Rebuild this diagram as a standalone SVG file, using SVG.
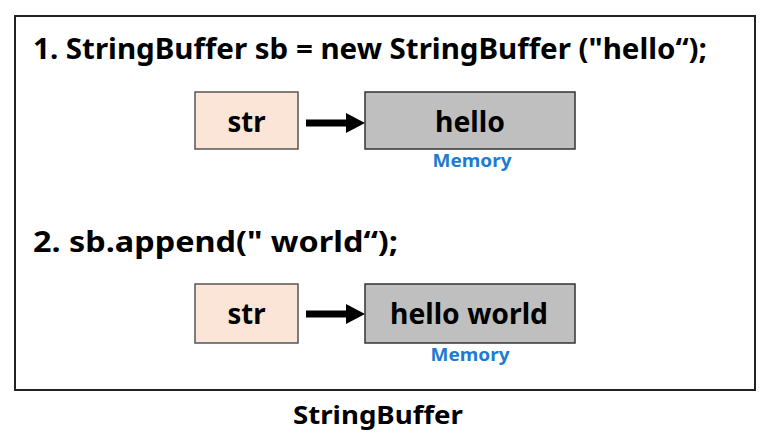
<svg xmlns="http://www.w3.org/2000/svg" width="771" height="448" viewBox="0 0 771 448">
<style>
.t{font-family:"Noto Sans","Liberation Sans",sans-serif;font-weight:bold;fill:#000}
.ref{fill:#fbe5d6;stroke:#555;stroke-width:1.5}
.mem{fill:#bfbfbf;stroke:#333;stroke-width:1.5}
.lbl{font-family:"Noto Sans","Liberation Sans",sans-serif;font-weight:bold;font-size:28px;fill:#000;text-anchor:middle}
.memlbl{font-family:"Noto Sans","Liberation Sans",sans-serif;font-weight:bold;font-size:18px;fill:#1e7bd0;text-anchor:middle}
.shaft{stroke:#000;stroke-width:7;fill:none}
</style>
<rect width="771" height="448" fill="#fff"/>
<rect id="frame" x="15" y="16" width="740" height="374" fill="#fff" stroke="#222" stroke-width="2"/>
<text class="t" x="33" y="59" font-size="29" textLength="674" lengthAdjust="spacingAndGlyphs">1. StringBuffer sb = new StringBuffer ("hello“);</text>
<text class="t" x="33" y="252" font-size="29" textLength="365" lengthAdjust="spacingAndGlyphs">2. sb.append(" world“);</text>
<g id="str1"><rect class="ref" x="195" y="92" width="103" height="57"/><text class="lbl" x="246.5" y="132" textLength="38" lengthAdjust="spacingAndGlyphs">str</text></g>
<g id="mem1"><rect class="mem" x="365" y="92" width="210" height="57"/><text class="lbl" x="470" y="132" textLength="70" lengthAdjust="spacingAndGlyphs">hello</text><text class="memlbl" x="472" y="167" textLength="79" lengthAdjust="spacingAndGlyphs">Memory</text></g>
<g id="str2"><rect class="ref" x="195" y="284" width="103" height="59"/><text class="lbl" x="246.5" y="324" textLength="38" lengthAdjust="spacingAndGlyphs">str</text></g>
<g id="mem2"><rect class="mem" x="365" y="284" width="210" height="59"/><text class="lbl" x="469" y="324" textLength="158" lengthAdjust="spacingAndGlyphs">hello world</text><text class="memlbl" x="470" y="361" textLength="79" lengthAdjust="spacingAndGlyphs">Memory</text></g>
<g id="connectors">
<line class="shaft" x1="306" y1="123" x2="349" y2="123"/><polygon points="346,113 365,123 346,133" fill="#000"/>
<line class="shaft" x1="306" y1="314" x2="349" y2="314"/><polygon points="346,304 365,314 346,324" fill="#000"/>
</g>
<text class="t" x="378" y="424" font-size="25" text-anchor="middle" textLength="170" lengthAdjust="spacingAndGlyphs">StringBuffer</text>
</svg>
